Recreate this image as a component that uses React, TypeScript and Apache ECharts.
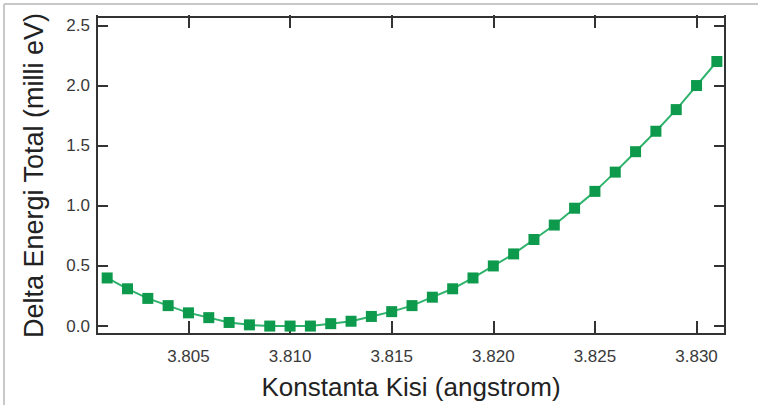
import React, { useEffect, useRef } from "react";
import * as echarts from "echarts";

const latticeConstants = [
  3.801, 3.802, 3.803, 3.804, 3.805, 3.806, 3.807, 3.808, 3.809, 3.81, 3.811,
  3.812, 3.813, 3.814, 3.815, 3.816, 3.817, 3.818, 3.819, 3.82, 3.821, 3.822,
  3.823, 3.824, 3.825, 3.826, 3.827, 3.828, 3.829, 3.83, 3.831,
];
const deltaEnergy = [
  0.4, 0.31, 0.23, 0.17, 0.11, 0.07, 0.03, 0.01, 0.0, 0.0, 0.0, 0.02, 0.04,
  0.08, 0.12, 0.17, 0.24, 0.31, 0.4, 0.5, 0.6, 0.72, 0.84, 0.98, 1.12, 1.28,
  1.45, 1.62, 1.8, 2.0, 2.2,
];
const xAxisTitle = "Konstanta Kisi (angstrom)";
const yAxisTitle = "Delta Energi Total (milli eV)";

const FONT = "'Liberation Sans', Arial, Helvetica, sans-serif";
const AXIS_COLOR = "#333";

export default function App() {
  const ref = useRef<HTMLDivElement>(null);
  useEffect(() => {
    if (!ref.current) return;
    const chart = echarts.init(ref.current, undefined, { renderer: "svg" });
    const xMin = 3.8005;
    const xMax = 3.8314;
    const yMin = -0.066;
    const yMax = 2.57;
    const W = 758;
    const H = 405;
    const gl = 97;
    const gr = 33;
    const gt = 17;
    const gb = 69;
    const plotW = W - gl - gr;
    const plotH = H - gt - gb;
    chart.setOption({
      animation: false,
      backgroundColor: "#fff",
      grid: {
        left: gl,
        right: gr,
        top: gt,
        bottom: gb,
        containLabel: false,
        show: true,
        borderColor: AXIS_COLOR,
        borderWidth: 2,
        backgroundColor: "transparent",
      },
      graphic: [
        {
          type: "line",
          shape: { x1: 4, y1: 4, x2: 758, y2: 4 },
          style: { stroke: "#c8c8c8", lineWidth: 2 },
          silent: true,
        },
        {
          type: "line",
          shape: { x1: 4, y1: 4, x2: 4, y2: 405 },
          style: { stroke: "#c8c8c8", lineWidth: 2 },
          silent: true,
        },
      ],
      xAxis: [
        {
          type: "value",
          position: "bottom",
          min: xMin,
          max: xMax,
          splitNumber: 6,
          axisLine: { show: true, onZero: false, lineStyle: { color: AXIS_COLOR, width: 2 } },
          splitLine: { show: false },
          axisTick: {
            show: true,
            inside: true,
            length: 13,
            lineStyle: { color: AXIS_COLOR, width: 2 },
          },
          axisLabel: {
            show: true,
            margin: 14,
            fontSize: 17,
            color: "#3a3a3a",
            fontFamily: FONT,
            showMinLabel: false,
            showMaxLabel: false,
            formatter: (v: number) => v.toFixed(3),
          },
          name: xAxisTitle,
          nameLocation: "middle",
          nameGap: 40,
          nameTextStyle: { fontSize: 26, color: "#222", fontFamily: FONT },
        },
        {
          type: "value",
          position: "bottom",
          offset: -plotH,
          min: xMin,
          max: xMax,
          splitNumber: 6,
          axisLine: { show: false, onZero: false },
          splitLine: { show: false },
          axisTick: {
            show: true,
            inside: false,
            length: 13,
            lineStyle: { color: AXIS_COLOR, width: 2 },
          },
          axisLabel: { show: false },
        },
      ],
      yAxis: [
        {
          type: "value",
          position: "left",
          min: yMin,
          max: yMax,
          splitNumber: 5,
          axisLine: { show: true, onZero: false, lineStyle: { color: AXIS_COLOR, width: 2 } },
          splitLine: { show: false },
          axisTick: {
            show: true,
            inside: true,
            length: 11,
            lineStyle: { color: AXIS_COLOR, width: 2 },
          },
          axisLabel: {
            show: true,
            margin: 7,
            fontSize: 17,
            color: "#3a3a3a",
            fontFamily: FONT,
            showMinLabel: false,
            showMaxLabel: false,
            formatter: (v: number) => v.toFixed(1),
          },
          name: yAxisTitle,
          nameLocation: "middle",
          nameRotate: 90,
          nameGap: 50,
          nameTextStyle: { fontSize: 27, color: "#222", fontFamily: FONT },
        },
        {
          type: "value",
          position: "left",
          offset: -plotW,
          min: yMin,
          max: yMax,
          splitNumber: 5,
          axisLine: { show: false, onZero: false },
          splitLine: { show: false },
          axisTick: {
            show: true,
            inside: false,
            length: 11,
            lineStyle: { color: AXIS_COLOR, width: 2 },
          },
          axisLabel: { show: false },
        },
      ],
      series: [
        {
          type: "line",
          xAxisIndex: 0,
          yAxisIndex: 0,
          data: latticeConstants.map((x, i) => [x, deltaEnergy[i]]),
          symbol: "rect",
          symbolSize: 11,
          lineStyle: { color: "#2fb36c", width: 2 },
          itemStyle: { color: "#0d9a4c" },
          clip: false,
        },
      ],
    });
    return () => chart.dispose();
  }, []);
  return (
    <div
      ref={ref}
      style={{ position: "absolute", left: 0, top: 0, width: 758, height: 405 }}
    />
  );
}
